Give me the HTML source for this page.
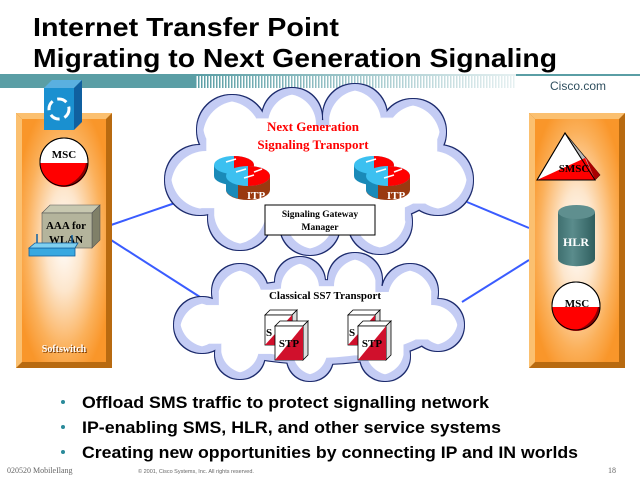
<!DOCTYPE html>
<html><head><meta charset="utf-8"><style>
html,body{margin:0;padding:0;background:#fff;width:640px;height:480px;overflow:hidden}
svg{display:block}
.ser{font-family:"Liberation Serif",serif;font-weight:bold}
.sans{font-family:"Liberation Sans",sans-serif;font-weight:bold}
</style></head><body>
<svg width="640" height="480" viewBox="0 0 640 480" xmlns="http://www.w3.org/2000/svg">
<defs>
<radialGradient id="pg" cx="50%" cy="50%" r="60%">
<stop offset="0" stop-color="#fff"/><stop offset="0.35" stop-color="#fde6cc"/><stop offset="0.75" stop-color="#fbb05a"/><stop offset="1" stop-color="#f9962a"/>
</radialGradient>
<pattern id="stripes" width="3" height="14" patternUnits="userSpaceOnUse"><rect width="1.5" height="14" fill="#5a9ea5"/></pattern>
<linearGradient id="fade" x1="0" x2="1"><stop offset="0" stop-color="#fff" stop-opacity="0"/><stop offset="1" stop-color="#fff" stop-opacity="0.85"/></linearGradient>
<linearGradient id="cyl" x1="0" x2="1"><stop offset="0" stop-color="#3f7070"/><stop offset="0.4" stop-color="#5a8c8c"/><stop offset="1" stop-color="#2f5e5e"/></linearGradient>
<filter id="dil" x="-10%" y="-10%" width="120%" height="120%"><feMorphology operator="dilate" radius="1.2"/></filter>
<filter id="ero" x="-10%" y="-10%" width="120%" height="120%"><feMorphology operator="erode" radius="6"/></filter>
<g id="c1">
<ellipse cx="318" cy="175" rx="130" ry="55"/>
<circle cx="232" cy="130" r="35"/><circle cx="292" cy="118" r="30"/><circle cx="355" cy="116" r="32"/><circle cx="413" cy="132" r="33"/>
<circle cx="200" cy="180" r="35"/><circle cx="438" cy="180" r="35"/><circle cx="240" cy="218" r="32"/><circle cx="310" cy="225" r="30"/><circle cx="380" cy="222" r="32"/>
</g>
<g id="c2">
<ellipse cx="318" cy="322" rx="125" ry="42"/>
<circle cx="240" cy="292" r="28"/><circle cx="300" cy="282" r="25"/><circle cx="355" cy="280" r="27"/><circle cx="410" cy="292" r="28"/>
<circle cx="202" cy="325" r="28"/><circle cx="438" cy="325" r="26"/><circle cx="240" cy="354" r="25"/><circle cx="310" cy="358" r="23"/><circle cx="385" cy="356" r="25"/>
</g>
</defs>

<!-- title -->
<text x="33" y="36" class="sans" font-size="26" textLength="306" lengthAdjust="spacingAndGlyphs">Internet Transfer Point</text>
<text x="33" y="67" class="sans" font-size="26" textLength="524" lengthAdjust="spacingAndGlyphs">Migrating to Next Generation Signaling</text>

<!-- band -->
<rect x="0" y="74" width="640" height="2" fill="#5a9ea5"/>
<rect x="0" y="74" width="196" height="14" fill="#5a9ea5"/>
<rect x="196" y="74" width="320" height="14" fill="url(#stripes)"/>
<rect x="196" y="74" width="320" height="14" fill="url(#fade)"/>
<text x="550" y="90" font-family="Liberation Sans,sans-serif" font-size="12" fill="#2f4f5f">Cisco.com</text>

<!-- connectors -->
<g stroke="#3a5cff" stroke-width="2">
<line x1="111" y1="225" x2="175" y2="203"/>
<line x1="111" y1="240" x2="200" y2="297"/>
<line x1="529" y1="228" x2="467" y2="202"/>
<line x1="529" y1="260" x2="462" y2="302"/>
</g>

<!-- clouds -->
<use href="#c1" fill="#1a2a6c" filter="url(#dil)"/>
<use href="#c1" fill="#c4ccf4"/>
<use href="#c1" fill="#fff" filter="url(#ero)"/>
<use href="#c2" fill="#1a2a6c" filter="url(#dil)"/>
<use href="#c2" fill="#c4ccf4"/>
<use href="#c2" fill="#fff" filter="url(#ero)"/>

<!-- upper cloud contents -->
<text x="313" y="131" text-anchor="middle" class="ser" font-size="13" fill="#f00">Next Generation</text>
<text x="313" y="149" text-anchor="middle" class="ser" font-size="13" fill="#f00">Signaling Transport</text>

<g id="itp">
<path d="M214 165 v11 a20 9 0 0 0 40 0 v-11z" fill="#1a8ab8"/>
<ellipse cx="234" cy="165" rx="20" ry="9" fill="#3cc0f0"/>
<path d="M234 156 a20 9 0 0 1 20 9 a20 9 0 0 1 -20 9z" fill="#f00"/>
<path d="M226 176 v14 a22 10 0 0 0 44 0 v-14z" fill="#9a3a10"/>
<path d="M226 176 v14 a22 10 0 0 0 12 8.5 v-14z" fill="#1a8ab8"/>
<ellipse cx="248" cy="176" rx="22" ry="10" fill="#3cc0f0"/>
<path d="M248 166 a22 10 0 0 1 22 10 a22 10 0 0 1 -22 10z" fill="#f00"/>
<path d="M226 162 l10 -3 M236 172 l10 -3 M244 178 l10 -3 M254 172 l8 -3" stroke="#fff" stroke-width="1.5"/>
<text x="256" y="199" text-anchor="middle" class="ser" font-size="11" fill="#fff">ITP</text>
</g>
<use href="#itp" x="140" y="0"/>

<rect x="265" y="205" width="110" height="30" fill="#fff" stroke="#000"/>
<text x="320" y="217" text-anchor="middle" class="ser" font-size="9.5">Signaling Gateway</text>
<text x="320" y="230" text-anchor="middle" class="ser" font-size="9.5">Manager</text>

<!-- lower cloud contents -->
<text x="325" y="299" text-anchor="middle" class="ser" font-size="11">Classical SS7 Transport</text>
<g id="stp">
<polygon points="265,315 270,310 297,310 292,315" fill="#fff" stroke="#000" stroke-width="0.8"/>
<polygon points="292,315 297,310 297,340 292,345" fill="#ddd" stroke="#000" stroke-width="0.8"/>
<rect x="265" y="315" width="27" height="30" fill="#fff" stroke="#000" stroke-width="0.8"/>
<polygon points="265,345 292,315 292,345" fill="#d0102c"/>
<text x="266" y="336" class="ser" font-size="11">S</text>
<polygon points="275,326 280,321 308,321 303,326" fill="#fff" stroke="#000" stroke-width="0.8"/>
<polygon points="303,326 308,321 308,355 303,360" fill="#ddd" stroke="#000" stroke-width="0.8"/>
<rect x="275" y="326" width="28" height="34" fill="#fff" stroke="#000" stroke-width="0.8"/>
<polygon points="275,360 303,326 303,360" fill="#d0102c"/>
<text x="289" y="347" text-anchor="middle" class="ser" font-size="11">STP</text>
</g>
<use href="#stp" x="83" y="0"/>

<!-- left panel -->
<rect x="16" y="113" width="96" height="255" fill="#b86a10"/>
<polygon points="16,113 112,113 106,119 22,119" fill="#fbc070"/>
<polygon points="16,113 22,119 22,362 16,368" fill="#fbc070"/>
<rect x="22" y="119" width="84" height="243" fill="url(#pg)"/>
<text x="65" y="353" text-anchor="middle" class="ser" font-size="10" fill="#7a3a00">Softswitch</text>
<text x="64" y="352" text-anchor="middle" class="ser" font-size="10" fill="#fff">Softswitch</text>

<polygon points="44,88 52,80 82,80 74,88" fill="#5ab0e0"/>
<polygon points="74,88 82,80 82,122 74,130" fill="#1060a0"/>
<rect x="44" y="88" width="30" height="42" fill="#1a90d0"/>
<circle cx="59" cy="109" r="10" fill="none" stroke="#fff" stroke-width="3" stroke-dasharray="10 5"/>

<circle cx="64" cy="162" r="24" fill="#fff" stroke="#000"/>
<path d="M40 163 h48 a24 24 0 0 1 -48 0z" fill="#f00"/>
<path d="M88 163 a24 24 0 0 1 -24 23 a30 30 0 0 0 22 -23z" fill="#800"/>
<circle cx="64" cy="162" r="24" fill="none" stroke="#000"/>
<text x="64" y="158" text-anchor="middle" class="ser" font-size="11">MSC</text>

<polygon points="42,213 50,205 100,205 92,213" fill="#c8c8b0" stroke="#555" stroke-width="0.6"/>
<polygon points="92,213 100,205 100,240 92,248" fill="#808068" stroke="#555" stroke-width="0.6"/>
<rect x="42" y="213" width="50" height="35" fill="#b4b49c" stroke="#555" stroke-width="0.6"/>
<text x="66" y="229" text-anchor="middle" class="ser" font-size="11">AAA for</text>
<text x="66" y="243" text-anchor="middle" class="ser" font-size="11">WLAN</text>
<rect x="29" y="248" width="46" height="8" fill="#38a8e0" stroke="#1060a0" stroke-width="0.8"/>
<polygon points="29,248 35,243 78,243 75,248" fill="#80d0f0" stroke="#1060a0" stroke-width="0.8"/>
<line x1="37" y1="243" x2="37" y2="234" stroke="#1060a0" stroke-width="1.5"/>
<line x1="72" y1="243" x2="72" y2="235" stroke="#1060a0" stroke-width="1.5"/>

<!-- right panel -->
<rect x="529" y="113" width="96" height="255" fill="#b86a10"/>
<polygon points="529,113 625,113 619,119 535,119" fill="#fbc070"/>
<polygon points="529,113 535,119 535,362 529,368" fill="#fbc070"/>
<rect x="535" y="119" width="84" height="243" fill="url(#pg)"/>

<polygon points="565,133 537,180 595,180" fill="#fff" stroke="#000"/>
<polygon points="565,133 595,180 600,175" fill="#bbb" stroke="#000" stroke-width="0.6"/>
<polygon points="595,180 600,175 585,156" fill="#a00"/>
<polygon points="537,180 595,180 585,158" fill="#f00"/>
<polygon points="565,133 537,180 595,180" fill="none" stroke="#000"/>
<text x="574" y="172" text-anchor="middle" class="ser" font-size="11">SMSC</text>

<path d="M558 212 v47 a18 7 0 0 0 37 0 v-47z" fill="url(#cyl)"/>
<ellipse cx="576.5" cy="212" rx="18.5" ry="7" fill="#5f8f8f"/>
<text x="576" y="246" text-anchor="middle" class="ser" font-size="12" fill="#fff">HLR</text>

<circle cx="576" cy="306" r="24" fill="#fff" stroke="#000"/>
<path d="M552 307 h48 a24 24 0 0 1 -48 0z" fill="#f00"/>
<path d="M600 307 a24 24 0 0 1 -24 23 a30 30 0 0 0 22 -23z" fill="#800"/>
<circle cx="576" cy="306" r="24" fill="none" stroke="#000"/>
<text x="577" y="307" text-anchor="middle" class="ser" font-size="11">MSC</text>

<!-- bullets -->
<g fill="#2a8a9a"><circle cx="63" cy="402" r="2"/><circle cx="63" cy="427" r="2"/><circle cx="63" cy="452" r="2"/></g>
<text x="82" y="408" class="sans" font-size="16.5" textLength="407" lengthAdjust="spacingAndGlyphs">Offload SMS traffic to protect signalling network</text>
<text x="82" y="433" class="sans" font-size="16.5" textLength="419" lengthAdjust="spacingAndGlyphs">IP-enabling SMS, HLR, and other service systems</text>
<text x="82" y="458" class="sans" font-size="16.5" textLength="496" lengthAdjust="spacingAndGlyphs">Creating new opportunities by connecting IP and IN worlds</text>

<!-- footer -->
<text x="7" y="473" font-family="Liberation Serif,serif" font-size="8" fill="#666">020520 MobileIlang</text>
<text x="138" y="473" font-family="Liberation Sans,sans-serif" font-size="5.5" fill="#666">© 2001, Cisco Systems, Inc. All rights reserved.</text>
<text x="608" y="473" font-family="Liberation Serif,serif" font-size="8" fill="#666">18</text>
</svg>
</body></html>
